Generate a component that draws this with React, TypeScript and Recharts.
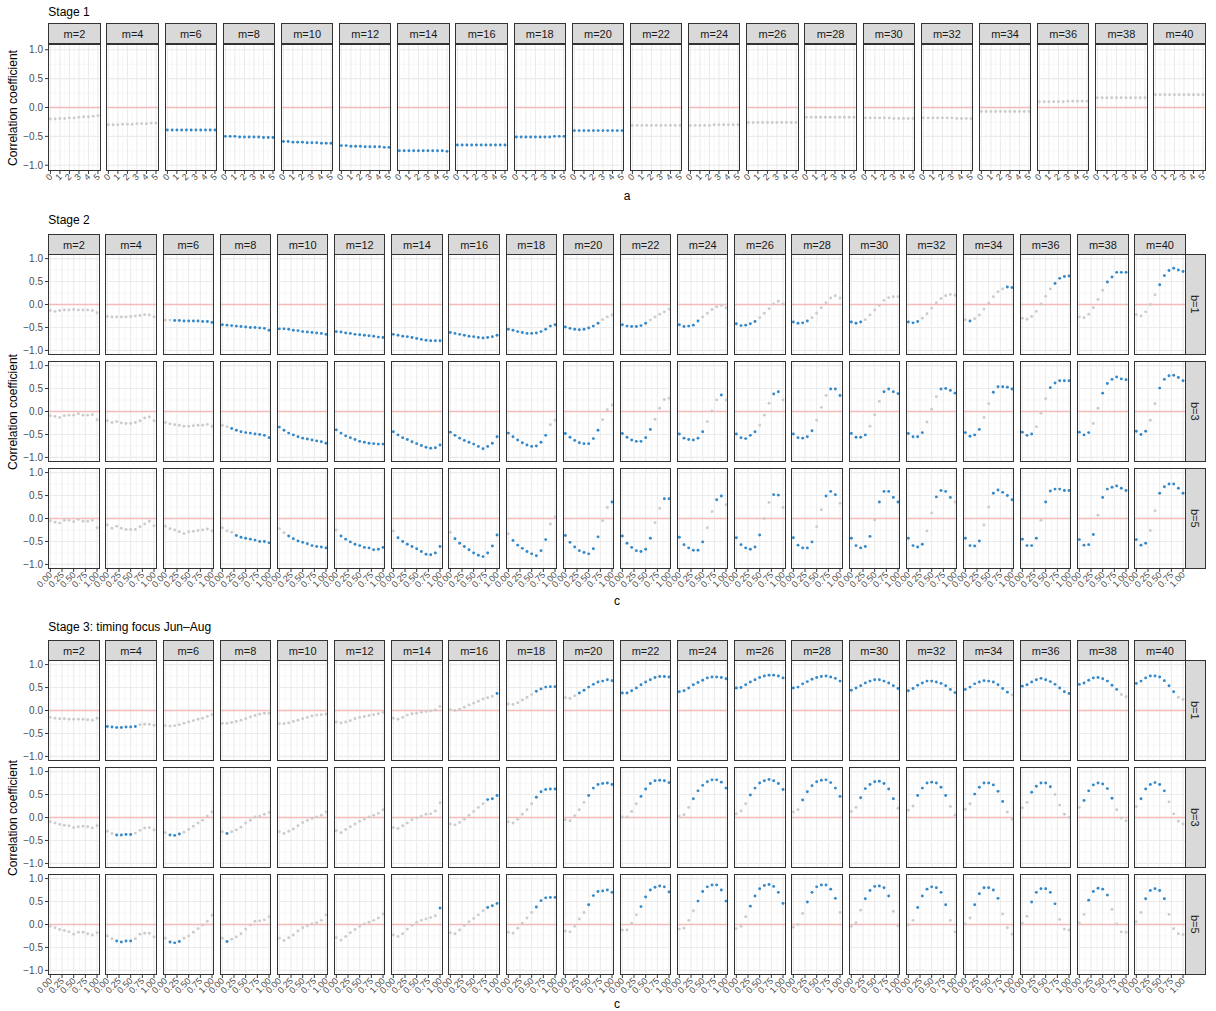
import React from 'react'
import { ScatterChart, Scatter, XAxis, YAxis, CartesianGrid, ReferenceLine } from 'recharts'

// facet labels and x positions
const mValues = [2, 4, 6, 8, 10, 12, 14, 16, 18, 20, 22, 24, 26, 28, 30, 32, 34, 36, 38, 40]
const bLabels = ['b=1', 'b=3', 'b=5']
const aValues = [0, 0.5, 1, 1.5, 2, 2.5, 3, 3.5, 4, 4.5, 5]
const cValues = [0, 0.1, 0.2, 0.3, 0.4, 0.5, 0.6, 0.7, 0.8, 0.9, 1]

const aTicks = [0, 1, 2, 3, 4, 5]
const aMinor = [0.5, 1.5, 2.5, 3.5, 4.5]
const cTicks = [0, 0.25, 0.5, 0.75, 1]
const cMinor = [0.125, 0.375, 0.625, 0.875]
const yTicks = [-1, -0.5, 0, 0.5, 1]
const yGrid = [-1, -0.5, 0.5, 1] // zero is drawn by the reference line
const yMinor = [-0.75, -0.25, 0.25, 0.75]

// Stage 1: one series per m, over a
const stage1Values = [
  [-0.20, -0.20, -0.19, -0.19, -0.18, -0.18, -0.17, -0.16, -0.16, -0.15, -0.14],
  [-0.30, -0.30, -0.30, -0.29, -0.29, -0.29, -0.28, -0.28, -0.28, -0.27, -0.27],
  [-0.39, -0.39, -0.39, -0.39, -0.39, -0.39, -0.39, -0.39, -0.39, -0.39, -0.39],
  [-0.50, -0.50, -0.50, -0.51, -0.51, -0.51, -0.51, -0.51, -0.52, -0.52, -0.52],
  [-0.59, -0.59, -0.60, -0.60, -0.60, -0.61, -0.61, -0.61, -0.62, -0.62, -0.62],
  [-0.66, -0.66, -0.67, -0.67, -0.67, -0.68, -0.68, -0.68, -0.68, -0.69, -0.69],
  [-0.75, -0.75, -0.75, -0.75, -0.75, -0.75, -0.75, -0.75, -0.75, -0.75, -0.76],
  [-0.65, -0.65, -0.65, -0.65, -0.65, -0.65, -0.65, -0.65, -0.65, -0.65, -0.65],
  [-0.51, -0.51, -0.51, -0.51, -0.51, -0.51, -0.51, -0.51, -0.50, -0.50, -0.50],
  [-0.40, -0.40, -0.40, -0.40, -0.40, -0.40, -0.40, -0.40, -0.40, -0.40, -0.40],
  [-0.31, -0.31, -0.31, -0.31, -0.31, -0.31, -0.31, -0.31, -0.31, -0.31, -0.31],
  [-0.31, -0.31, -0.31, -0.31, -0.31, -0.30, -0.30, -0.30, -0.30, -0.30, -0.30],
  [-0.26, -0.26, -0.26, -0.26, -0.26, -0.26, -0.26, -0.26, -0.26, -0.26, -0.26],
  [-0.17, -0.17, -0.17, -0.17, -0.17, -0.17, -0.17, -0.17, -0.17, -0.17, -0.17],
  [-0.18, -0.18, -0.18, -0.18, -0.18, -0.18, -0.19, -0.19, -0.19, -0.19, -0.19],
  [-0.18, -0.18, -0.18, -0.18, -0.18, -0.18, -0.18, -0.19, -0.19, -0.19, -0.19],
  [-0.07, -0.07, -0.07, -0.07, -0.07, -0.07, -0.07, -0.07, -0.07, -0.07, -0.07],
  [0.10, 0.10, 0.10, 0.10, 0.10, 0.10, 0.11, 0.11, 0.11, 0.11, 0.11],
  [0.17, 0.17, 0.17, 0.17, 0.17, 0.17, 0.17, 0.17, 0.17, 0.17, 0.17],
  [0.22, 0.22, 0.22, 0.22, 0.22, 0.22, 0.22, 0.22, 0.22, 0.22, 0.22],
]
const stage1Sig = [
  '00000000000', '00000000000', '11111111111', '11111111111', '11111111111',
  '11111111111', '11111111111', '11111111111', '11111111111', '11111111111',
  '00000000000', '00000000000', '00000000000', '00000000000', '00000000000',
  '00000000000', '00000000000', '00000000000', '00000000000', '00000000000',
]

// Stage 2, b=1
const stage2B1 = [
  [-0.13, -0.15, -0.13, -0.12, -0.12, -0.11, -0.12, -0.12, -0.12, -0.13, -0.18],
  [-0.26, -0.27, -0.27, -0.27, -0.27, -0.26, -0.25, -0.24, -0.22, -0.23, -0.27],
  [-0.34, -0.34, -0.35, -0.35, -0.36, -0.36, -0.36, -0.36, -0.37, -0.37, -0.39],
  [-0.44, -0.45, -0.46, -0.47, -0.48, -0.49, -0.50, -0.50, -0.51, -0.52, -0.56],
  [-0.53, -0.53, -0.54, -0.56, -0.57, -0.59, -0.60, -0.61, -0.62, -0.63, -0.65],
  [-0.59, -0.60, -0.62, -0.63, -0.65, -0.66, -0.67, -0.68, -0.69, -0.71, -0.72],
  [-0.65, -0.67, -0.69, -0.70, -0.72, -0.74, -0.76, -0.78, -0.79, -0.79, -0.79],
  [-0.61, -0.63, -0.65, -0.67, -0.69, -0.70, -0.72, -0.73, -0.72, -0.70, -0.67],
  [-0.54, -0.56, -0.59, -0.61, -0.63, -0.63, -0.62, -0.59, -0.54, -0.47, -0.44],
  [-0.49, -0.52, -0.54, -0.55, -0.54, -0.51, -0.47, -0.41, -0.33, -0.27, -0.23],
  [-0.44, -0.47, -0.48, -0.48, -0.46, -0.41, -0.34, -0.27, -0.21, -0.16, -0.10],
  [-0.44, -0.48, -0.47, -0.45, -0.36, -0.27, -0.19, -0.11, -0.05, -0.02, -0.07],
  [-0.42, -0.46, -0.45, -0.42, -0.37, -0.29, -0.19, -0.09, 0.01, 0.07, 0.01],
  [-0.38, -0.41, -0.40, -0.36, -0.29, -0.19, -0.07, 0.04, 0.14, 0.19, 0.14],
  [-0.38, -0.41, -0.38, -0.33, -0.23, -0.12, -0.02, 0.09, 0.15, 0.17, 0.17],
  [-0.38, -0.40, -0.37, -0.30, -0.20, -0.08, 0.04, 0.13, 0.19, 0.22, 0.20],
  [-0.33, -0.36, -0.31, -0.23, -0.10, 0.03, 0.17, 0.28, 0.34, 0.38, 0.37],
  [-0.30, -0.32, -0.26, -0.15, 0.01, 0.18, 0.34, 0.46, 0.57, 0.61, 0.62],
  [-0.27, -0.29, -0.21, -0.07, 0.11, 0.31, 0.49, 0.60, 0.70, 0.70, 0.70],
  [-0.22, -0.25, -0.16, 0.00, 0.21, 0.43, 0.63, 0.74, 0.79, 0.75, 0.72],
]
const stage2B1Sig = [
  '00000000000', '00000000000', '00111111111', '11111111111', '11111111111',
  '11111111111', '11111111111', '11111111111', '11111111111', '11111111000',
  '11111100000', '11111000000', '11111000000', '11110000000', '11100000000',
  '11100000000', '01000000011', '00000001111', '00000011111', '00000111111',
]

// Stage 2, b=3
const stage2B3 = [
  [-0.09, -0.11, -0.13, -0.09, -0.08, -0.08, -0.05, -0.08, -0.08, -0.07, -0.18],
  [-0.20, -0.24, -0.22, -0.25, -0.26, -0.26, -0.24, -0.20, -0.14, -0.12, -0.20],
  [-0.24, -0.27, -0.29, -0.30, -0.32, -0.32, -0.31, -0.30, -0.30, -0.28, -0.32],
  [-0.30, -0.33, -0.37, -0.41, -0.44, -0.46, -0.47, -0.49, -0.50, -0.52, -0.57],
  [-0.34, -0.41, -0.47, -0.51, -0.55, -0.58, -0.60, -0.62, -0.64, -0.66, -0.69],
  [-0.40, -0.47, -0.53, -0.57, -0.61, -0.65, -0.67, -0.69, -0.70, -0.71, -0.71],
  [-0.44, -0.51, -0.57, -0.61, -0.66, -0.70, -0.74, -0.78, -0.80, -0.79, -0.73],
  [-0.45, -0.52, -0.58, -0.63, -0.67, -0.71, -0.76, -0.81, -0.76, -0.69, -0.55],
  [-0.47, -0.55, -0.62, -0.68, -0.73, -0.76, -0.75, -0.67, -0.52, -0.29, -0.19],
  [-0.48, -0.56, -0.63, -0.68, -0.70, -0.70, -0.59, -0.41, -0.18, 0.04, 0.14],
  [-0.48, -0.56, -0.62, -0.65, -0.65, -0.57, -0.39, -0.17, 0.07, 0.26, 0.29],
  [-0.49, -0.58, -0.61, -0.62, -0.58, -0.44, -0.22, 0.01, 0.25, 0.36, 0.25],
  [-0.49, -0.57, -0.59, -0.52, -0.44, -0.30, -0.08, 0.18, 0.38, 0.43, 0.25],
  [-0.49, -0.57, -0.58, -0.55, -0.42, -0.19, 0.09, 0.35, 0.49, 0.49, 0.35],
  [-0.48, -0.56, -0.56, -0.51, -0.32, -0.07, 0.22, 0.43, 0.49, 0.43, 0.39],
  [-0.48, -0.55, -0.55, -0.46, -0.23, 0.05, 0.32, 0.49, 0.50, 0.46, 0.40],
  [-0.46, -0.54, -0.51, -0.39, -0.13, 0.17, 0.42, 0.54, 0.54, 0.53, 0.49],
  [-0.45, -0.52, -0.49, -0.33, -0.04, 0.28, 0.52, 0.62, 0.67, 0.67, 0.67],
  [-0.45, -0.51, -0.46, -0.26, 0.07, 0.40, 0.61, 0.70, 0.75, 0.71, 0.69],
  [-0.43, -0.50, -0.43, -0.19, 0.17, 0.51, 0.70, 0.78, 0.79, 0.74, 0.67],
]
const stage2B3Sig = [
  '00000000000', '00000000000', '00000000000', '00111111111', '11111111111',
  '11111111111', '11111111111', '11111111111', '11111111100', '11111111000',
  '11111110000', '11111100010', '11111000110', '11111000111', '11110001111',
  '11110001111', '11110011111', '11100011111', '11100111111', '11100111111',
]

// Stage 2, b=5
const stage2B5 = [
  [-0.05, -0.08, -0.10, -0.04, -0.04, -0.07, -0.02, -0.06, -0.06, -0.04, -0.20],
  [-0.14, -0.21, -0.17, -0.21, -0.24, -0.24, -0.24, -0.18, -0.12, -0.06, -0.16],
  [-0.17, -0.22, -0.25, -0.29, -0.33, -0.29, -0.28, -0.26, -0.25, -0.23, -0.27],
  [-0.20, -0.27, -0.30, -0.37, -0.41, -0.43, -0.45, -0.47, -0.50, -0.50, -0.53],
  [-0.22, -0.31, -0.38, -0.44, -0.49, -0.52, -0.55, -0.59, -0.61, -0.62, -0.64],
  [-0.25, -0.38, -0.45, -0.51, -0.56, -0.59, -0.63, -0.64, -0.68, -0.67, -0.63],
  [-0.27, -0.42, -0.50, -0.56, -0.61, -0.66, -0.72, -0.78, -0.79, -0.75, -0.61],
  [-0.30, -0.44, -0.54, -0.61, -0.68, -0.75, -0.80, -0.83, -0.75, -0.60, -0.36],
  [-0.33, -0.48, -0.58, -0.65, -0.72, -0.77, -0.81, -0.70, -0.46, -0.12, 0.04],
  [-0.37, -0.52, -0.62, -0.70, -0.74, -0.77, -0.66, -0.40, -0.05, 0.24, 0.36],
  [-0.38, -0.54, -0.63, -0.70, -0.72, -0.67, -0.43, -0.09, 0.22, 0.43, 0.43],
  [-0.41, -0.57, -0.64, -0.69, -0.69, -0.51, -0.20, 0.15, 0.41, 0.49, 0.30],
  [-0.42, -0.57, -0.64, -0.67, -0.62, -0.36, 0.00, 0.35, 0.52, 0.51, 0.24],
  [-0.42, -0.58, -0.64, -0.64, -0.51, -0.18, 0.19, 0.49, 0.59, 0.52, 0.33],
  [-0.43, -0.59, -0.64, -0.61, -0.39, -0.03, 0.36, 0.59, 0.59, 0.46, 0.36],
  [-0.43, -0.59, -0.62, -0.56, -0.27, 0.12, 0.47, 0.61, 0.59, 0.46, 0.36],
  [-0.43, -0.59, -0.60, -0.49, -0.14, 0.25, 0.55, 0.62, 0.57, 0.50, 0.41],
  [-0.45, -0.59, -0.59, -0.43, -0.04, 0.36, 0.60, 0.64, 0.64, 0.61, 0.61],
  [-0.46, -0.58, -0.57, -0.35, 0.07, 0.46, 0.64, 0.68, 0.71, 0.66, 0.61],
  [-0.46, -0.58, -0.54, -0.26, 0.17, 0.55, 0.69, 0.75, 0.75, 0.66, 0.55],
]
const stage2B5Sig = [
  '00000000000', '00000000000', '00000000000', '00011111111', '00111111111',
  '01111111111', '01111111111', '01111111111', '01111111100', '11111111001',
  '11111110011', '11111100110', '11111100110', '11111001110', '11111011111',
  '11110011110', '11110011111', '11110111111', '11110111111', '11100111111',
]

// Stage 3 (timing focus Jun-Aug), b=1
const stage3B1 = [
  [-0.15, -0.17, -0.18, -0.18, -0.19, -0.19, -0.19, -0.19, -0.20, -0.21, -0.17],
  [-0.35, -0.36, -0.37, -0.37, -0.36, -0.36, -0.35, -0.31, -0.30, -0.30, -0.32],
  [-0.33, -0.34, -0.33, -0.31, -0.28, -0.25, -0.22, -0.19, -0.17, -0.13, -0.09],
  [-0.28, -0.28, -0.26, -0.24, -0.21, -0.18, -0.14, -0.11, -0.08, -0.06, -0.06],
  [-0.29, -0.29, -0.27, -0.24, -0.21, -0.18, -0.15, -0.12, -0.10, -0.09, -0.08],
  [-0.25, -0.27, -0.25, -0.22, -0.18, -0.15, -0.13, -0.11, -0.09, -0.07, -0.04],
  [-0.17, -0.19, -0.15, -0.10, -0.07, -0.06, -0.04, -0.02, -0.01, 0.01, 0.09],
  [0.02, 0.00, 0.03, 0.07, 0.12, 0.16, 0.20, 0.25, 0.28, 0.31, 0.37],
  [0.14, 0.13, 0.17, 0.23, 0.29, 0.35, 0.42, 0.47, 0.51, 0.52, 0.52],
  [0.28, 0.26, 0.32, 0.38, 0.44, 0.51, 0.57, 0.62, 0.64, 0.67, 0.65],
  [0.38, 0.38, 0.43, 0.49, 0.56, 0.62, 0.67, 0.72, 0.74, 0.74, 0.73],
  [0.41, 0.43, 0.49, 0.56, 0.61, 0.66, 0.71, 0.73, 0.73, 0.72, 0.69],
  [0.49, 0.50, 0.56, 0.62, 0.67, 0.72, 0.75, 0.77, 0.77, 0.75, 0.71],
  [0.49, 0.51, 0.58, 0.63, 0.68, 0.72, 0.74, 0.75, 0.73, 0.70, 0.64],
  [0.44, 0.49, 0.54, 0.60, 0.64, 0.67, 0.67, 0.64, 0.60, 0.54, 0.48],
  [0.43, 0.48, 0.55, 0.60, 0.64, 0.64, 0.62, 0.59, 0.54, 0.46, 0.39],
  [0.46, 0.51, 0.58, 0.62, 0.65, 0.64, 0.62, 0.56, 0.48, 0.40, 0.34],
  [0.53, 0.56, 0.62, 0.67, 0.70, 0.67, 0.63, 0.57, 0.49, 0.41, 0.37],
  [0.57, 0.60, 0.66, 0.71, 0.72, 0.69, 0.64, 0.55, 0.46, 0.35, 0.30],
  [0.59, 0.64, 0.71, 0.75, 0.75, 0.73, 0.65, 0.54, 0.41, 0.29, 0.24],
]
const stage3B1Sig = [
  '00000000000', '11111110000', '00000000000', '00000000000', '00000000000',
  '00000000000', '00000000000', '00000000001', '00000011111', '00011111111',
  '11111111111', '11111111111', '11111111111', '11111111111', '11111111111',
  '11111111111', '11111111110', '11111111111', '11111111100', '11111111100',
]

// Stage 3, b=3
const stage3B3 = [
  [-0.09, -0.12, -0.15, -0.17, -0.18, -0.22, -0.20, -0.19, -0.20, -0.23, -0.18],
  [-0.30, -0.35, -0.38, -0.38, -0.37, -0.37, -0.34, -0.28, -0.23, -0.22, -0.27],
  [-0.33, -0.38, -0.39, -0.36, -0.32, -0.26, -0.19, -0.12, -0.06, 0.03, 0.12],
  [-0.31, -0.35, -0.31, -0.27, -0.21, -0.12, -0.06, 0.01, 0.03, 0.07, 0.11],
  [-0.31, -0.35, -0.30, -0.25, -0.18, -0.11, -0.06, -0.02, 0.01, 0.05, 0.12],
  [-0.29, -0.33, -0.26, -0.20, -0.14, -0.08, -0.04, 0.01, 0.05, 0.09, 0.17],
  [-0.22, -0.24, -0.18, -0.12, -0.05, -0.01, 0.03, 0.07, 0.08, 0.14, 0.32],
  [-0.14, -0.16, -0.11, -0.04, 0.05, 0.13, 0.22, 0.30, 0.39, 0.41, 0.48],
  [-0.09, -0.12, -0.04, 0.07, 0.17, 0.30, 0.44, 0.56, 0.61, 0.62, 0.62],
  [-0.05, -0.07, 0.04, 0.17, 0.33, 0.48, 0.64, 0.72, 0.74, 0.75, 0.72],
  [0.01, 0.01, 0.13, 0.30, 0.46, 0.62, 0.74, 0.80, 0.81, 0.80, 0.76],
  [0.03, 0.06, 0.22, 0.41, 0.58, 0.70, 0.78, 0.82, 0.82, 0.77, 0.64],
  [0.08, 0.14, 0.30, 0.49, 0.64, 0.75, 0.80, 0.83, 0.80, 0.74, 0.61],
  [0.12, 0.17, 0.38, 0.56, 0.69, 0.78, 0.81, 0.82, 0.76, 0.64, 0.46],
  [0.13, 0.22, 0.43, 0.63, 0.72, 0.78, 0.79, 0.74, 0.62, 0.41, 0.20],
  [0.16, 0.25, 0.48, 0.64, 0.75, 0.77, 0.75, 0.66, 0.48, 0.24, 0.05],
  [0.18, 0.30, 0.51, 0.66, 0.75, 0.75, 0.71, 0.57, 0.35, 0.12, -0.04],
  [0.21, 0.33, 0.55, 0.68, 0.75, 0.75, 0.67, 0.50, 0.27, 0.07, 0.00],
  [0.22, 0.37, 0.58, 0.71, 0.75, 0.73, 0.63, 0.42, 0.17, -0.01, -0.07],
  [0.24, 0.41, 0.62, 0.72, 0.76, 0.72, 0.58, 0.34, 0.08, -0.08, -0.14],
]
const stage3B3Sig = [
  '00000000000', '00111100000', '01110000000', '01000000000', '00000000000',
  '00000000000', '00000000000', '00000000111', '00000011111', '00000111111',
  '00001111111', '00011111111', '00011111111', '00111111111', '00111111110',
  '00111111100', '00111111100', '00111110000', '01111111000', '01111110000',
]

// Stage 3, b=5
const stage3B5 = [
  [-0.04, -0.07, -0.11, -0.13, -0.16, -0.21, -0.17, -0.17, -0.20, -0.23, -0.18],
  [-0.25, -0.31, -0.36, -0.38, -0.36, -0.36, -0.31, -0.21, -0.19, -0.19, -0.27],
  [-0.30, -0.38, -0.40, -0.37, -0.30, -0.25, -0.17, -0.09, -0.01, 0.07, 0.20],
  [-0.30, -0.37, -0.32, -0.27, -0.20, -0.10, -0.01, 0.07, 0.08, 0.10, 0.17],
  [-0.30, -0.35, -0.29, -0.23, -0.14, -0.07, -0.03, 0.01, 0.04, 0.09, 0.21],
  [-0.29, -0.34, -0.26, -0.18, -0.11, -0.04, 0.01, 0.05, 0.09, 0.14, 0.23],
  [-0.23, -0.26, -0.20, -0.10, -0.02, 0.05, 0.09, 0.12, 0.15, 0.19, 0.36],
  [-0.18, -0.20, -0.12, -0.02, 0.06, 0.13, 0.21, 0.30, 0.37, 0.41, 0.46],
  [-0.17, -0.19, -0.08, 0.03, 0.14, 0.26, 0.38, 0.52, 0.58, 0.59, 0.59],
  [-0.14, -0.16, -0.04, 0.12, 0.26, 0.43, 0.63, 0.72, 0.73, 0.75, 0.70],
  [-0.12, -0.12, 0.03, 0.21, 0.39, 0.60, 0.75, 0.81, 0.84, 0.82, 0.71],
  [-0.10, -0.08, 0.09, 0.30, 0.51, 0.72, 0.82, 0.86, 0.86, 0.75, 0.51],
  [-0.09, -0.04, 0.17, 0.40, 0.62, 0.78, 0.85, 0.87, 0.83, 0.70, 0.46],
  [-0.06, 0.00, 0.24, 0.49, 0.70, 0.82, 0.86, 0.86, 0.77, 0.57, 0.26],
  [-0.04, 0.04, 0.31, 0.56, 0.74, 0.83, 0.84, 0.80, 0.62, 0.29, -0.03],
  [-0.01, 0.09, 0.37, 0.62, 0.77, 0.82, 0.80, 0.70, 0.43, 0.09, -0.16],
  [0.01, 0.14, 0.43, 0.67, 0.80, 0.80, 0.75, 0.57, 0.23, -0.07, -0.21],
  [0.03, 0.18, 0.49, 0.70, 0.78, 0.78, 0.70, 0.45, 0.11, -0.10, -0.12],
  [0.04, 0.22, 0.53, 0.72, 0.79, 0.77, 0.64, 0.33, 0.01, -0.16, -0.17],
  [0.06, 0.26, 0.56, 0.74, 0.78, 0.74, 0.56, 0.22, -0.09, -0.20, -0.22],
]
const stage3B5Sig = [
  '00000000000', '00111100000', '01110000000', '01000000000', '00000000000',
  '00000000000', '00000000001', '00000000111', '00000011111', '00000111111',
  '00001111111', '00001111111', '00011111111', '00011111110', '00011111100',
  '00111111100', '00111111000', '00111111000', '00111110000', '00111110000',
]

const FONT = '"Liberation Sans", Arial, Helvetica, sans-serif'
const BLUE = '#3288C8'
const GREY = '#CCCCCC'
const ZERO = '#F5BABA'
const BORDER = '#333333'
const STRIP_FILL = '#D9D9D9'

const LEFT = 48.3
const GAP = 5.8
const Y_AXIS_W = 42
const X_AXIS_H = 30
const X_PAD = 18 // room for the slanted first tick label
const R_PAD = 8 // and for the last one

const yFmt = (v: number) => v.toFixed(1).replace('-', '\u2212')
const aFmt = (v: number) => String(v)
const cFmt = (v: number) => v.toFixed(2)

function SlantTick(props: any) {
  const { x, y, payload, fmt } = props
  return (
    <text
      x={x}
      y={y}
      dy="0.4em"
      textAnchor="end"
      fontSize={9}
      fill="#4D4D4D"
      transform={`rotate(-45 ${x} ${y})`}
    >
      {fmt(payload.value)}
    </text>
  )
}

const dot = (fill: string) => (p: any) => <circle cx={p.cx} cy={p.cy} r={1.45} fill={fill} />

interface PanelProps {
  xs: number[]
  ys: number[]
  sig: string
  xDomain: [number, number]
  xTicks: number[]
  xMinor: number[]
  xFmt: (v: number) => string
  w: number
  h: number
  left: number
  top: number
  showX: boolean
  showY: boolean
}

function Panel({ xs, ys, sig, xDomain, xTicks, xMinor, xFmt, w, h, left, top, showX, showY }: PanelProps) {
  const pts = xs.map((x, i) => ({ x, y: ys[i], s: sig[i] === '1' }))
  const grey = pts.filter(p => !p.s)
  const blue = pts.filter(p => p.s)
  const yw = showY ? Y_AXIS_W : 0
  const padL = showX && !showY ? X_PAD : 0
  const padR = showX ? R_PAD : 0
  const xh = showX ? X_AXIS_H : 0
  return (
    <>
      <div style={{ position: 'absolute', left: left - yw - padL, top }}>
        <ScatterChart
          width={w + yw + padL + padR}
          height={h + xh}
          margin={{ top: 0, right: padR, bottom: 0, left: padL }}
        >
          <CartesianGrid horizontalValues={yMinor} verticalValues={xMinor} stroke="#F2F2F2" strokeWidth={0.6} />
          <CartesianGrid horizontalValues={yGrid} verticalValues={xTicks} stroke="#EBEBEB" strokeWidth={1.1} />
          <XAxis
            type="number"
            dataKey="x"
            domain={xDomain}
            ticks={xTicks}
            interval={0}
            hide={!showX}
            height={X_AXIS_H}
            axisLine={false}
            tickSize={3}
            tickMargin={1}
            tickLine={{ stroke: BORDER }}
            tick={<SlantTick fmt={xFmt} />}
          />
          <YAxis
            type="number"
            dataKey="y"
            domain={[-1.1, 1.1]}
            ticks={yTicks}
            interval={0}
            hide={!showY}
            width={Y_AXIS_W}
            axisLine={false}
            tickSize={3}
            tickMargin={2}
            tickLine={{ stroke: BORDER }}
            tick={{ fontSize: 10, fill: '#4D4D4D' }}
            tickFormatter={yFmt}
          />
          <ReferenceLine y={0} stroke={ZERO} strokeWidth={1.5} />
          <Scatter data={grey} shape={dot(GREY)} isAnimationActive={false} />
          <Scatter data={blue} shape={dot(BLUE)} isAnimationActive={false} />
        </ScatterChart>
      </div>
      <div
        style={{
          position: 'absolute', left, top, width: w, height: h,
          border: `1px solid ${BORDER}`, boxSizing: 'border-box', pointerEvents: 'none',
        }}
      />
    </>
  )
}

function TopStrip({ left, top, w, label }: { left: number; top: number; w: number; label: string }) {
  return (
    <div
      style={{
        position: 'absolute', left, top, width: w, height: 21, boxSizing: 'border-box',
        background: STRIP_FILL, border: `1px solid ${BORDER}`, color: '#1A1A1A', fontSize: 11,
        display: 'flex', alignItems: 'center', justifyContent: 'center',
      }}
    >
      {label}
    </div>
  )
}

function SideStrip({ left, top, h, label }: { left: number; top: number; h: number; label: string }) {
  return (
    <div
      style={{
        position: 'absolute', left, top, width: 21, height: h, boxSizing: 'border-box',
        background: STRIP_FILL, border: `1px solid ${BORDER}`, color: '#1A1A1A', fontSize: 11,
        display: 'flex', alignItems: 'center', justifyContent: 'center', writingMode: 'vertical-rl',
      }}
    >
      {label}
    </div>
  )
}

function Text({ x, y, children, size = 12, rotate = false }: { x: number; y: number; children: React.ReactNode; size?: number; rotate?: boolean }) {
  return (
    <div
      style={{
        position: 'absolute', left: x - 150, top: y - 7, width: 300, height: 14, lineHeight: '14px',
        textAlign: 'center', fontSize: size, color: '#000',
        transform: rotate ? 'rotate(-90deg)' : undefined,
      }}
    >
      {children}
    </div>
  )
}

function Title({ x, y, children }: { x: number; y: number; children: React.ReactNode }) {
  return (
    <div style={{ position: 'absolute', left: x, top: y - 8, height: 16, lineHeight: '16px', fontSize: 12, color: '#000', whiteSpace: 'nowrap' }}>
      {children}
    </div>
  )
}

// a facet grid of m columns by b rows, sharing the c axis
function GridStage({ title, titleY, stripTop, rowTops, rowH, rows, sigs, xLabelY }: {
  title: string; titleY: number; stripTop: number; rowTops: number[]; rowH: number
  rows: number[][][]; sigs: string[][]; xLabelY: number
}) {
  const right = 1185.7
  const w = (right - LEFT - 19 * GAP) / 20
  const colLeft = (i: number) => LEFT + i * (w + GAP)
  return (
    <>
      <Title x={LEFT} y={titleY}>{title}</Title>
      {rows.map((panels, r) =>
        panels.map((ys, i) => (
          <Panel
            key={`${r}-${i}`}
            xs={cValues}
            ys={ys}
            sig={sigs[r][i]}
            xDomain={[-0.05, 1.05]}
            xTicks={cTicks}
            xMinor={cMinor}
            xFmt={cFmt}
            w={w}
            h={rowH}
            left={colLeft(i)}
            top={rowTops[r]}
            showX={r === rows.length - 1}
            showY={i === 0}
          />
        )),
      )}
      {mValues.map((m, i) => (
        <TopStrip key={m} left={colLeft(i)} top={stripTop} w={w} label={`m=${m}`} />
      ))}
      {bLabels.map((b, r) => (
        <SideStrip key={b} left={right - 1} top={rowTops[r]} h={rowH} label={b} />
      ))}
      <Text x={12.5} y={(rowTops[0] + rowTops[rowTops.length - 1] + rowH) / 2} rotate>Correlation coefficient</Text>
      <Text x={(LEFT + right) / 2} y={xLabelY}>c</Text>
    </>
  )
}

const stage3Title = 'Stage 3: timing focus Jun\u2013Aug'

export default function App() {
  const right1 = 1205.7
  const w1 = (right1 - LEFT - 19 * GAP) / 20
  const col1 = (i: number) => LEFT + i * (w1 + GAP)
  const top1 = 44
  const h1 = 127
  return (
    <div style={{ position: 'absolute', left: 0, top: 0, width: 1216, height: 1011, background: '#fff', fontFamily: FONT, overflow: 'hidden' }}>
      {/* Stage 1 */}
      <Title x={LEFT} y={11.7}>Stage 1</Title>
      {stage1Values.map((ys, i) => (
        <Panel
          key={`s1-${i}`}
          xs={aValues}
          ys={ys}
          sig={stage1Sig[i]}
          xDomain={[-0.25, 5.25]}
          xTicks={aTicks}
          xMinor={aMinor}
          xFmt={aFmt}
          w={w1}
          h={h1}
          left={col1(i)}
          top={top1}
          showX
          showY={i === 0}
        />
      ))}
      {mValues.map((m, i) => (
        <TopStrip key={m} left={col1(i)} top={23.3} w={w1} label={`m=${m}`} />
      ))}
      <Text x={12.5} y={top1 + h1 / 2} rotate>Correlation coefficient</Text>
      <Text x={(LEFT + right1) / 2} y={195.5}>a</Text>

      {/* Stage 2 */}
      <GridStage
        title="Stage 2"
        titleY={220}
        stripTop={234}
        rowTops={[254, 361, 468]}
        rowH={101}
        rows={[stage2B1, stage2B3, stage2B5]}
        sigs={[stage2B1Sig, stage2B3Sig, stage2B5Sig]}
        xLabelY={601}
      />

      {/* Stage 3 */}
      <GridStage
        title={stage3Title}
        titleY={627}
        stripTop={640}
        rowTops={[660, 767, 874]}
        rowH={101}
        rows={[stage3B1, stage3B3, stage3B5]}
        sigs={[stage3B1Sig, stage3B3Sig, stage3B5Sig]}
        xLabelY={1003.5}
      />
    </div>
  )
}
